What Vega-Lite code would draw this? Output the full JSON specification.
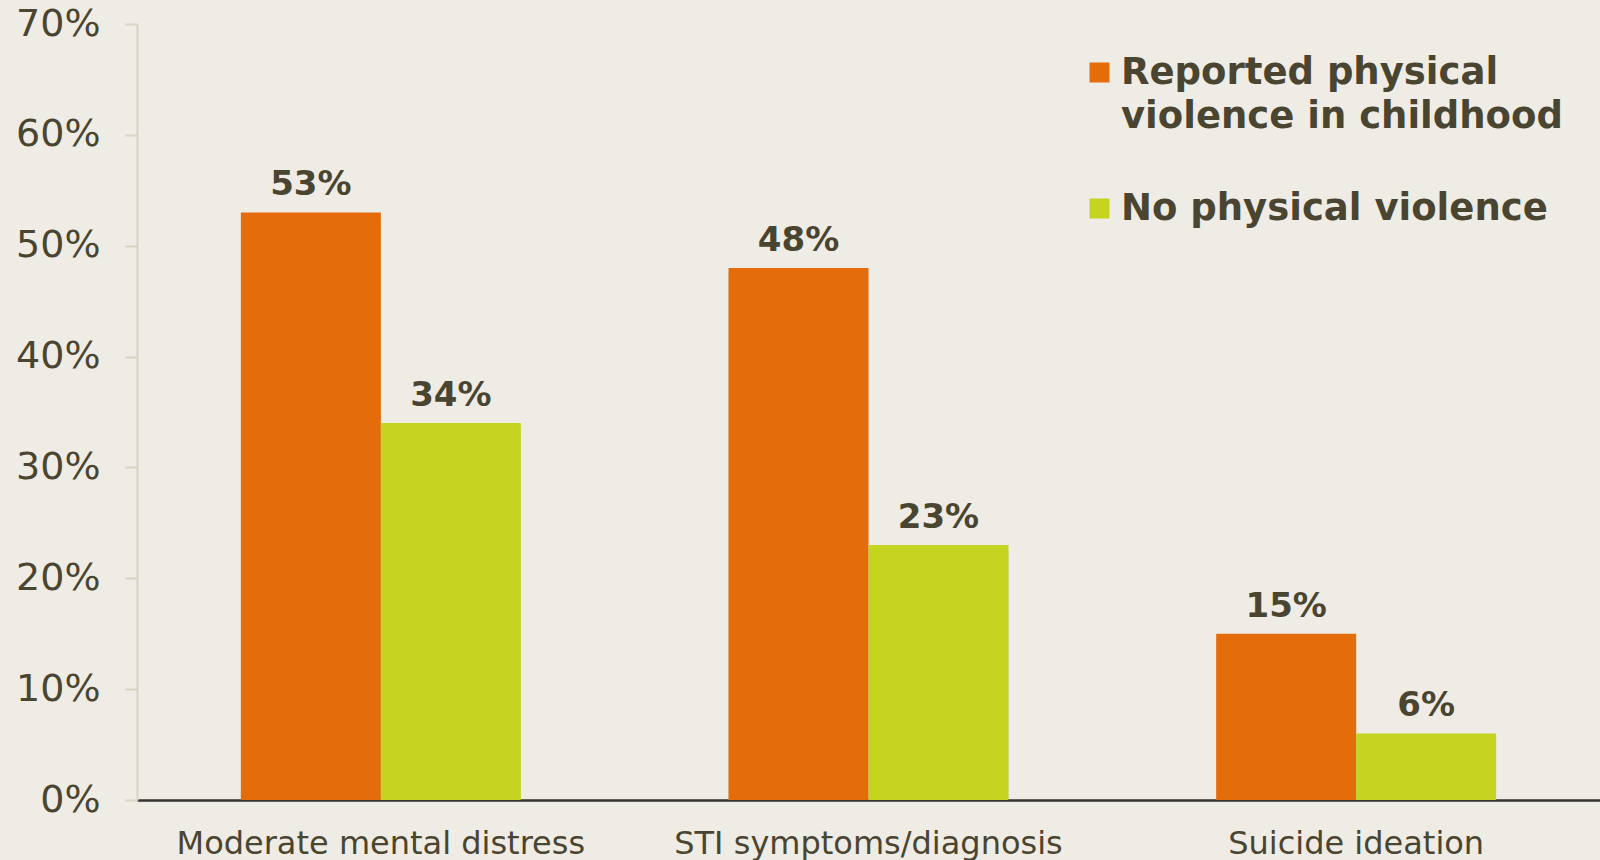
{
  "$schema": "https://vega.github.io/schema/vega-lite/v6.json",
  "width": 1463,
  "height": 776,
  "autosize": {"type": "none"},
  "padding": {"left": 137, "top": 24, "right": 0, "bottom": 60},
  "background": "#efece5",
  "config": {
    "view": {"stroke": null},
    "font": "DejaVu Sans"
  },
  "data": {
    "values": [
      {"category": "Moderate mental distress", "group": "Reported physical violence in childhood", "value": 53, "label": "53%"},
      {"category": "Moderate mental distress", "group": "No physical violence", "value": 34, "label": "34%"},
      {"category": "STI symptoms/diagnosis", "group": "Reported physical violence in childhood", "value": 48, "label": "48%"},
      {"category": "STI symptoms/diagnosis", "group": "No physical violence", "value": 23, "label": "23%"},
      {"category": "Suicide ideation", "group": "Reported physical violence in childhood", "value": 15, "label": "15%"},
      {"category": "Suicide ideation", "group": "No physical violence", "value": 6, "label": "6%"}
    ]
  },
  "encoding": {
    "x": {
      "field": "category",
      "type": "nominal",
      "sort": null,
      "scale": {"paddingInner": 0.426, "paddingOuter": 0.213},
      "axis": {
        "title": null,
        "labelAngle": 0,
        "labelFont": "DejaVu Sans",
        "labelFontSize": 32,
        "labelColor": "#4a4530",
        "labelPadding": 28,
        "ticks": false,
        "domainColor": "#333333",
        "domainWidth": 2.5,
        "labelLimit": 600
      }
    },
    "xOffset": {
      "field": "group",
      "type": "nominal",
      "sort": ["Reported physical violence in childhood", "No physical violence"],
      "scale": {"paddingInner": 0, "paddingOuter": 0}
    },
    "y": {
      "field": "value",
      "type": "quantitative",
      "scale": {"domain": [0, 70], "nice": false},
      "axis": {
        "title": null,
        "values": [0, 10, 20, 30, 40, 50, 60, 70],
        "labelExpr": "datum.value + '%'",
        "labelFont": "DejaVu Sans",
        "labelFontSize": 38,
        "labelColor": "#4a4530",
        "labelPadding": 25,
        "tickSize": 12,
        "tickColor": "#d6d4c0",
        "tickWidth": 2,
        "domainColor": "#d6d4c0",
        "domainWidth": 2,
        "grid": false
      }
    }
  },
  "layer": [
    {
      "mark": {"type": "bar", "color": "#000000", "opacity": 0.13, "xOffset": 5, "yOffset": 5, "y2Offset": 0},
      "encoding": {
        "y2": {"datum": 0}
      }
    },
    {
      "mark": {"type": "bar"},
      "encoding": {
        "color": {
          "field": "group",
          "type": "nominal",
          "scale": {
            "domain": ["Reported physical violence in childhood", "No physical violence"],
            "range": ["#e46c0a", "#c4d420"]
          },
          "legend": {
            "title": null,
            "orient": "none",
            "legendX": 944,
            "legendY": 30,
            "symbolType": "square",
            "symbolSize": 400,
            "symbolStrokeWidth": 0,
            "labelFont": "DejaVu Sans",
            "labelFontSize": 37,
            "labelFontWeight": "bold",
            "labelColor": "#4a4530",
            "labelLimit": 800,
            "labelOffset": 3,
            "rowPadding": 54,
            "labelExpr": "datum.label == 'Reported physical violence in childhood' ? ['Reported physical', 'violence in childhood'] : datum.label",
            "encode": {
              "labels": {"update": {"lineHeight": {"value": 44}}}
            }
          }
        }
      }
    },
    {
      "mark": {
        "type": "text",
        "baseline": "alphabetic",
        "dy": -17,
        "font": "DejaVu Sans",
        "fontSize": 34,
        "fontWeight": "bold",
        "color": "#4a4530"
      },
      "encoding": {
        "text": {"field": "label", "type": "nominal"},
        "detail": {"field": "group"}
      }
    }
  ]
}
